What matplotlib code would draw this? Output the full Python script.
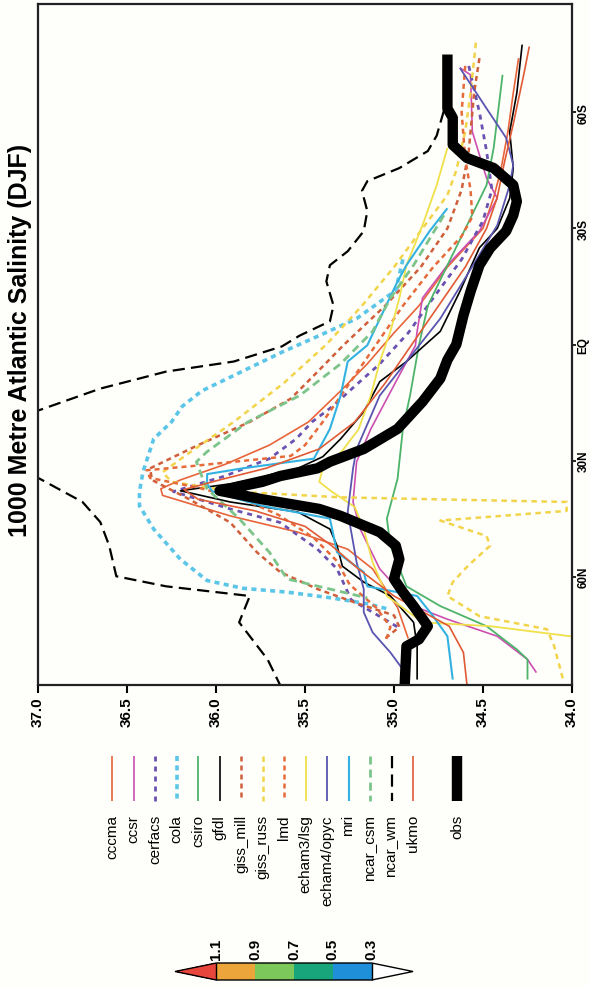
import matplotlib.pyplot as plt
import numpy as np
from matplotlib.colors import ListedColormap, BoundaryNorm
import matplotlib as mpl

plt.rcParams['font.family'] = ['Liberation Sans', 'DejaVu Sans']

# --- salinity (psu) along the Atlantic at 1000 m, DJF; latitude in degrees (N > 0) ---
cccma_lat = [-74, -65, -55, -45, -38, -30, -20, -10, -3, 5, 12, 20, 26, 31, 35, 37.3, 39, 44.3, 48.5, 52.9, 58, 63, 68, 72, 76]
cccma_sal = [34.30, 34.33, 34.36, 34.40, 34.44, 34.50, 34.70, 34.86, 35.0, 35.15, 35.30, 35.48, 35.70, 35.95, 36.20, 36.31, 36.30, 35.92, 35.54, 35.26, 35.12, 35.05, 34.98, 34.95, 34.92]

ccsr_lat = [-71.5, -69.7, -55, -43, -37.8, -29.3, -20.5, -12, -3.4, 0.3, 8.8, 21.8, 30.3, 40.7, 47.7, 58, 67.6, 71, 75.4, 81.4, 84.8]
ccsr_sal = [34.63, 34.57, 34.56, 34.48, 34.42, 34.52, 34.70, 34.84, 34.87, 34.88, 34.98, 35.13, 35.21, 35.23, 35.19, 35.08, 34.89, 34.70, 34.42, 34.25, 34.20]

cerfacs_lat = [-72, -60, -50, -40, -32, -22, -12, -3, 5, 12, 15.8, 20, 24.4, 29.5, 34, 38, 42.5, 46, 52.9, 58, 62, 66, 69.2, 73]
cerfacs_sal = [34.58, 34.52, 34.48, 34.45, 34.50, 34.62, 34.78, 34.92, 35.08, 35.25, 35.34, 35.46, 35.55, 35.70, 35.95, 36.24, 35.92, 35.64, 35.43, 35.32, 35.28, 35.24, 35.12, 34.98]

cola_lat = [-22, -14, -6.7, -2.3, 2, 8, 12, 16, 20, 24.4, 32.9, 38, 41.7, 47.7, 55.5, 61, 63, 64, 65.5, 67, 68.5]
cola_sal = [34.95, 34.99, 35.21, 35.42, 35.63, 35.90, 36.08, 36.19, 36.25, 36.35, 36.41, 36.43, 36.43, 36.35, 36.20, 36.05, 35.85, 35.60, 35.35, 35.15, 35.02]

csiro_lat = [-69.7, -50.8, -41.2, -30.8, -20.5, -10, 0.2, 13.2, 21.8, 34.7, 45, 52, 62.5, 67.6, 72.8, 78.8, 81.4, 86.6]
csiro_sal = [34.39, 34.44, 34.48, 34.59, 34.70, 34.81, 34.86, 34.91, 34.95, 34.98, 35.04, 35.02, 34.93, 34.74, 34.48, 34.31, 34.25, 34.25]

gfdl_lat = [-77.5, -65, -55, -45.6, -37.8, -30, -25, -13.7, -3.4, 4.4, 9.6, 17.4, 24.4, 29, 32, 36, 37.8, 40.7, 43.3, 47.7, 52, 57.3, 61.4, 65, 71.8, 78, 86.6]
gfdl_sal = [34.28, 34.31, 34.35, 34.33, 34.35, 34.42, 34.52, 34.63, 34.74, 34.93, 35.08, 35.17, 35.30, 35.40, 35.54, 35.92, 36.20, 35.92, 35.54, 35.36, 35.32, 35.29, 35.17, 35.02, 34.89, 34.87, 34.87]

giss_mill_lat = [-74, -65, -50, -40, -30, -20, -10, 0, 8, 14, 20, 26.2, 32, 35, 40, 46, 53.7, 58.8, 63.2, 67, 70, 73, 76]
giss_mill_sal = [34.52, 34.55, 34.58, 34.62, 34.70, 34.85, 35.05, 35.28, 35.45, 35.58, 35.81, 36.11, 36.37, 36.36, 36.15, 35.92, 35.77, 35.64, 35.43, 35.20, 35.00, 34.97, 35.05]

giss_russ_lat = [-78, -65, -55, -45, -38.6, -30, -20, -10, 0, 10, 20, 28, 33, 35.5, 38, 39.5, 40.7, 43, 45.5, 49.5, 52, 57, 61.4, 65, 70.2, 73.6, 78, 86.6]
giss_russ_sal = [34.54, 34.57, 34.60, 34.65, 34.70, 34.84, 35.00, 35.18, 35.38, 35.62, 35.90, 36.15, 36.30, 36.25, 35.90, 35.30, 34.03, 34.03, 34.74, 34.48, 34.46, 34.58, 34.67, 34.70, 34.52, 34.14, 34.10, 34.05]

lmd_lat = [-72, -60, -48, -40, -33, -28, -20, -10, 0, 10, 20, 26, 28.8, 31.4, 32.5, 34.5, 37, 40, 44, 50, 56, 62, 68, 73, 77]
lmd_sal = [34.60, 34.62, 34.60, 34.57, 34.56, 34.62, 34.78, 34.95, 35.10, 35.25, 35.40, 35.50, 35.58, 36.13, 36.39, 36.37, 36.10, 35.85, 35.65, 35.45, 35.32, 35.25, 35.10, 35.02, 35.05]

echam3_lat = [-50.8, -41.2, -30.8, -20.5, -12, -3.4, 4.4, 13.2, 22, 28, 32, 35.5, 38, 42, 47.7, 56.3, 65, 71.8, 72.8, 75.4, 77]
echam3_sal = [34.70, 34.76, 34.84, 34.93, 34.97, 35.02, 35.08, 35.13, 35.20, 35.30, 35.40, 35.42, 35.35, 35.22, 35.17, 35.12, 35.04, 34.84, 34.46, 34.01, 33.90]

echam4_lat = [-71.5, -61, -53.4, -46.4, -41.2, -30.8, -17.9, -6.7, 4.4, 13.2, 27, 32, 43.3, 56.3, 63.2, 69.2, 74.4, 79.6, 84]
echam4_sal = [34.63, 34.48, 34.37, 34.33, 34.35, 34.42, 34.59, 34.74, 34.93, 35.08, 35.21, 35.23, 35.26, 35.21, 35.17, 35.17, 35.12, 35.02, 34.95]

mri_lat = [-35.2, -29.3, -20.5, -16.3, 0.2, 4.4, 13.2, 21.8, 29.5, 32, 33.5, 36, 38, 41.7, 45, 53.7, 58.8, 62.5, 65, 70.2, 75.4, 86.6]
mri_sal = [34.70, 34.80, 34.93, 34.98, 35.15, 35.26, 35.30, 35.36, 35.45, 35.85, 36.05, 36.05, 36.02, 35.74, 35.36, 35.32, 35.17, 35.15, 34.87, 34.78, 34.70, 34.67]

ncar_csm_lat = [-33.4, -20.5, -12, -3.4, 5, 13.2, 20, 27.7, 30.3, 34, 37.3, 45, 53.7, 60.6, 63.2, 65.5]
ncar_csm_sal = [34.72, 34.89, 35.02, 35.12, 35.30, 35.53, 35.82, 36.05, 36.11, 36.08, 36.05, 35.87, 35.70, 35.60, 35.36, 35.15]

ncar_wm_lat = [-60.4, -54, -50, -45.6, -42.2, -39.7, -34.5, -29.3, -24.1, -20.5, -16.3, -10.1, -6, -2.3, 0.5, 4.4, 7, 11.4, 16.6, 25, 34.7, 40.7, 45.9, 52, 59.9, 62.5, 65, 71.8, 81.4, 88]
ncar_wm_sal = [34.72, 34.76, 34.81, 34.97, 35.15, 35.18, 35.15, 35.17, 35.26, 35.36, 35.38, 35.34, 35.36, 35.53, 35.63, 35.90, 36.28, 36.65, 36.97, 37.50, 36.99, 36.75, 36.65, 36.60, 36.56, 36.28, 35.81, 35.87, 35.71, 35.64]

ukmo_lat = [-77, -70, -57, -47, -38, -30, -20, -10, 0, 10, 20, 27, 32, 35, 37.5, 40, 43, 47, 52, 58, 65, 72.8, 79.6, 88]
ukmo_sal = [34.24, 34.27, 34.33, 34.38, 34.42, 34.48, 34.60, 34.75, 34.90, 35.05, 35.22, 35.42, 35.72, 35.98, 36.18, 36.10, 35.78, 35.50, 35.35, 35.20, 35.00, 34.69, 34.61, 34.59]

obs_lat = [-73.6, -61, -58.6, -51.6, -48.2, -45.6, -41.2, -37, -33.4, -29.3, -24.9, -20.5, -13.7, -7.5, 0, 4, 8.8, 14.8, 21.8, 27, 30.3, 32, 34, 35.5, 37.8, 40, 42.5, 44.3, 48.5, 52, 55.5, 60.6, 64, 67.6, 72.8, 76.2, 78, 88]
obs_sal = [34.70, 34.70, 34.67, 34.67, 34.59, 34.44, 34.33, 34.31, 34.33, 34.37, 34.46, 34.52, 34.57, 34.61, 34.65, 34.70, 34.74, 34.84, 34.98, 35.17, 35.36, 35.43, 35.64, 35.74, 35.98, 35.74, 35.42, 35.30, 35.08, 34.99, 34.97, 35.00, 34.95, 34.89, 34.81, 34.86, 34.93, 34.94]

model_names = ['cccma', 'ccsr', 'cerfacs', 'cola', 'csiro', 'gfdl', 'giss_mill', 'giss_russ',
               'lmd', 'echam3/lsg', 'echam4/opyc', 'mri', 'ncar_csm', 'ncar_wm', 'ukmo']
model_lat = [cccma_lat, ccsr_lat, cerfacs_lat, cola_lat, csiro_lat, gfdl_lat, giss_mill_lat, giss_russ_lat,
             lmd_lat, echam3_lat, echam4_lat, mri_lat, ncar_csm_lat, ncar_wm_lat, ukmo_lat]
model_sal = [cccma_sal, ccsr_sal, cerfacs_sal, cola_sal, csiro_sal, gfdl_sal, giss_mill_sal, giss_russ_sal,
             lmd_sal, echam3_sal, echam4_sal, mri_sal, ncar_csm_sal, ncar_wm_sal, ukmo_sal]

sal_ticks = [37.0, 36.5, 36.0, 35.5, 35.0, 34.5, 34.0]
lat_ticks = [-60, -30, 0, 30, 60]
lat_labels = ['60S', '30S', 'EQ', '30N', '60N']
cbar_bounds = [0.3, 0.5, 0.7, 0.9, 1.1]

# line styles for each model
colors = ['#e8643a', '#cc4fb0', '#6a52b0', '#5cc6e8', '#4db36a', 'black', '#cf5f3a', '#f2d44a',
          '#e66a3a', '#f0e04a', '#5a55b0', '#33b2e2', '#7cc48a', 'black', '#e05a35']
styles = ['-', '-', (0, (1.8, 1.8)), (0, (1.4, 1.2)), '-', '-', (0, (2, 1.6)), (0, (2.2, 1.8)),
          (0, (2, 1.6)), '-', '-', '-', (0, (2.9, 1.8)), (0, (5.5, 2.8)), '-']
widths = [1.2, 1.2, 2.0, 2.6, 1.3, 1.2, 1.8, 1.8, 1.8, 1.3, 1.3, 1.5, 2.0, 1.6, 1.2]

fig = plt.figure(figsize=(5.9, 9.87), dpi=100)
fig.patch.set_facecolor('#fefefb')

# overlay in pixel units for the legend block
lax = fig.add_axes([0, 0, 1, 1])
lax.set_xlim(0, 590)
lax.set_ylim(987, 0)
lax.axis('off')

ax = fig.add_axes([38/590, 1-686/987, 534/590, 681/987])
ax.set_facecolor('#fefefb')
for lat, sal, c, ls, lw in zip(model_lat, model_sal, colors, styles, widths):
    ax.plot(sal, lat, color=c, linestyle=ls, lw=lw, solid_capstyle='butt')
ax.plot(obs_sal, obs_lat, color='black', lw=7.5, solid_joinstyle='round')

ax.set_xlim(37, 34)
ax.set_ylim(88, -88)
ax.set_xticks(sal_ticks)
ax.set_xticklabels(['%.1f' % s for s in sal_ticks], rotation=90, fontsize=11, fontweight='bold')
ax.yaxis.tick_right()
ax.set_yticks(lat_ticks)
ax.set_yticklabels(lat_labels, rotation=90, fontsize=8.5, fontweight='bold', va='center')
ax.tick_params(axis='x', direction='out', length=6, width=1.5, pad=2)
ax.tick_params(axis='y', direction='out', length=3, width=1.2, pad=1)
for sp in ax.spines.values():
    sp.set_linewidth(1.6)
    sp.set_color('#222222')

fig.text(20/590, 1-340/987, '1000 Metre Atlantic Salinity (DJF)', rotation=90,
         fontsize=18, fontweight='bold', ha='center', va='center')

# legend: vertical samples with rotated names
for i, (name, c, ls, lw) in enumerate(zip(model_names, colors, styles, widths)):
    xp = 112 + i*21.5
    lax.plot([xp, xp], [757, 802], color=c, linestyle=ls, lw=lw, solid_capstyle='butt')
    lax.text(xp, 815, name, rotation=90, ha='center', va='top', fontsize=11)
lax.plot([457, 457], [757, 802], color='black', lw=7.5, solid_capstyle='butt')
lax.text(457, 815, 'obs', rotation=90, ha='center', va='top', fontsize=11)

# colour key
cmap = ListedColormap(['#1e8fd8', '#18a57c', '#7cc85a', '#eba53a'])
cmap.set_over('#e8453c')
cmap.set_under('white')
norm = BoundaryNorm(cbar_bounds, cmap.N)
cax = fig.add_axes([175/590, 1-981/987, 238/590, 17/987])
cb = mpl.colorbar.ColorbarBase(cax, cmap=cmap, norm=norm, orientation='horizontal',
                               extend='both', extendfrac=0.266, drawedges=True,
                               ticks=cbar_bounds)
cb.ax.invert_xaxis()
cb.outline.set_linewidth(1.0)
cb.dividers.set_linewidth(1.0)
cb.ax.xaxis.set_ticks_position('top')
cb.ax.set_xticklabels(['%.1f' % b for b in cbar_bounds], rotation=90, fontsize=11, fontweight='bold')
cb.ax.tick_params(length=0, pad=3)

fig.savefig('out.png', dpi=100, facecolor=fig.get_facecolor())
